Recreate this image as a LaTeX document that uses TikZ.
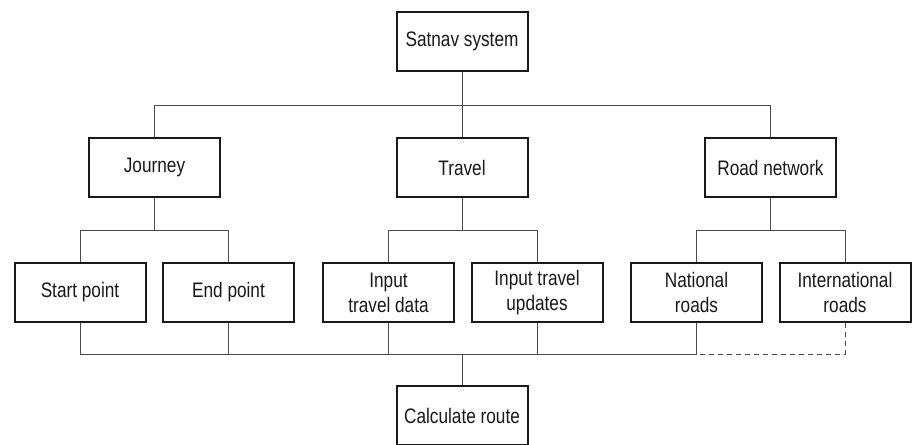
\documentclass[tikz,border=0pt]{standalone}
\usepackage{fontspec}
\setmainfont{Liberation Sans}[FakeStretch=0.82]
\usetikzlibrary{positioning, calc}

\tikzset{
  block/.style={draw=black!90, line width=2pt, fill=white, text=black!90,
    minimum width=131pt, minimum height=59pt, align=center,
    font=\fontsize{21}{25}\selectfont, inner sep=2pt},
  link/.style={draw=black!70, line width=1pt},
  optlink/.style={link, dashed, dash pattern=on 5pt off 4pt}
}

\begin{document}
\begin{tikzpicture}[x=1pt, y=-1pt]
\useasboundingbox (0,0) rectangle (912,444);
\clip (0,0) rectangle (912,444);
\fill[white] (0,0) rectangle (912,444);

% top level
\node[block] (sat) at (462,41.5) {Satnav system};

% second level
\node[block] (journey) at (154.5,167.5) {Journey};
\node[block] (travel) at (462,167.5) {Travel};
\node[block] (road) at (770.5,167.5) {Road network};

% third level
\node[block] (start) at (80,292.5) {Start point};
\node[block] (endpt) at (228.5,292.5) {End point};
\node[block] (itd) at (388.5,292.5) {Input\\travel data};
\node[block] (itu) at (537,292.5) {Input travel\\updates};
\node[block] (nat) at (696.5,292.5) {National\\roads};
\node[block] (intl) at (845,292.5) {International\\roads};

% result
\node[block] (calc) at (462,415.5) {Calculate route};

% buses
\coordinate (busa) at (0,105);
\coordinate (busb) at (0,230);
\coordinate (busc) at (0,354);

\draw[link] (sat.south) -- (travel.north);
\draw[link] (journey.north) -- (journey.north |- busa) -- (road.north |- busa) -- (road.north);

\draw[link] (journey.south) -- (journey.south |- busb);
\draw[link] (start.north) -- (start.north |- busb) -- (endpt.north |- busb) -- (endpt.north);
\draw[link] (travel.south) -- (travel.south |- busb);
\draw[link] (itd.north) -- (itd.north |- busb) -- (itu.north |- busb) -- (itu.north);
\draw[link] (road.south) -- (road.south |- busb);
\draw[link] (nat.north) -- (nat.north |- busb) -- (intl.north |- busb) -- (intl.north);

\draw[link] (start.south) -- (start.south |- busc) -- (nat.south |- busc) -- (nat.south);
\draw[link] (endpt.south) -- (endpt.south |- busc);
\draw[link] (itd.south) -- (itd.south |- busc);
\draw[link] (itu.south) -- (itu.south |- busc);
\draw[optlink] (intl.south) -- (intl.south |- busc) -- (nat.south |- busc);
\draw[link] (calc.north) -- (calc.north |- busc);
\end{tikzpicture}
\end{document}
